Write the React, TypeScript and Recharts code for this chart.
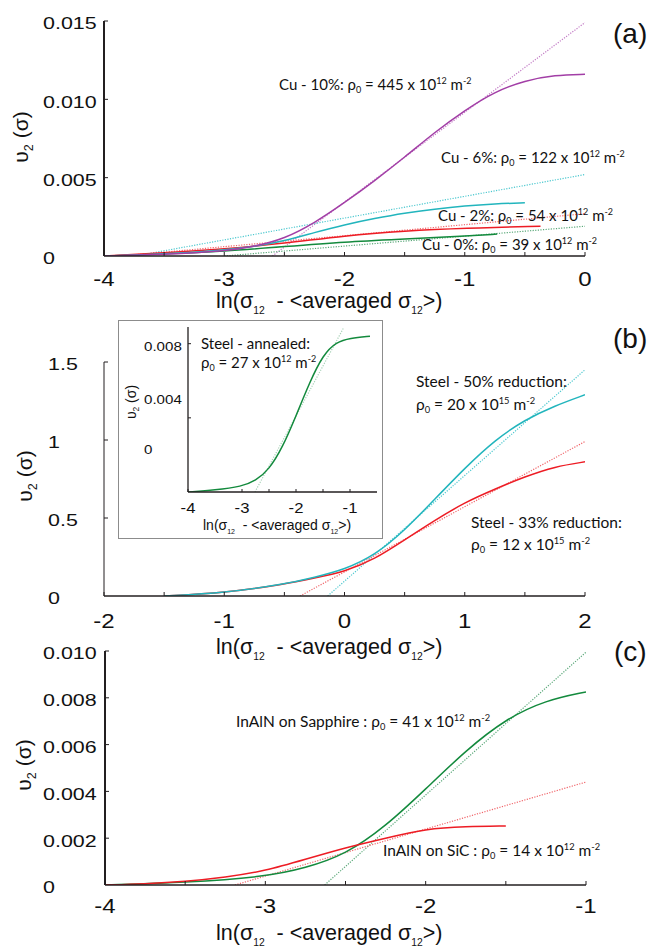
import React from 'react';
import { LineChart, Line, XAxis, YAxis } from 'recharts';

// ---------- Panel (a): Cu ----------
const aXTicks = [-4, -3.5, -3, -2.5, -2, -1.5, -1, -0.5, 0];
const aXLabels = ['-4', '', '-3', '', '-2', '', '-1', '', '0'];
const aYTicks = [0, 0.005, 0.01, 0.015];
const aYLabels = ['0', '0.005', '0.010', '0.015'];

const cu10X = [-4, -3.5, -3, -2.75, -2.5, -2.25, -2, -1.75, -1.5, -1.25, -1, -0.75, -0.5, -0.25, 0];
const cu10Y = [0, 0.0001, 0.0003, 0.0006, 0.0011, 0.0021, 0.0034, 0.0048, 0.0063, 0.0079, 0.0093, 0.0105, 0.0112, 0.01155, 0.0116];
const cu6X = [-4, -3.5, -3, -2.75, -2.5, -2.25, -2, -1.75, -1.5, -1.25, -1, -0.75, -0.5];
const cu6Y = [0, 0.00013, 0.00038, 0.0006, 0.00095, 0.0015, 0.002, 0.0024, 0.00275, 0.003, 0.0032, 0.00333, 0.0034];
const cu2X = [-4, -3.5, -3, -2.5, -2, -1.5, -1, -0.37];
const cu2Y = [0, 0.0002, 0.00045, 0.0008, 0.0013, 0.0016, 0.00178, 0.0019];
const cu0X = [-4, -3.5, -3, -2.5, -2, -1.5, -1, -0.73];
const cu0Y = [0, 0.00013, 0.0003, 0.0006, 0.0009, 0.00108, 0.00127, 0.0014];
const cu10FitX = [-2.6, 0];
const cu10FitY = [0, 0.0149];
const cu6FitX = [-3.74, 0];
const cu6FitY = [0, 0.0052];
const cu2FitX = [-3.85, 0];
const cu2FitY = [0, 0.0027];
const cu0FitX = [-3.0, 0];
const cu0FitY = [0, 0.0019];

// ---------- Panel (b): Steel ----------
const bXTicks = [-2, -1.5, -1, -0.5, 0, 0.5, 1, 1.5, 2];
const bXLabels = ['-2', '', '-1', '', '0', '', '1', '', '2'];
const bYTicks = [0, 0.5, 1, 1.5];
const bYLabels = ['0', '0.5', '1', '1.5'];

const st50X = [-1.5, -1, -0.5, -0.25, 0, 0.25, 0.5, 0.75, 1, 1.25, 1.5, 1.75, 2];
const st50Y = [0, 0.02, 0.075, 0.12, 0.17, 0.26, 0.42, 0.62, 0.82, 1.0, 1.13, 1.22, 1.29];
const st33X = [-1.5, -1, -0.5, -0.25, 0, 0.25, 0.5, 0.75, 1, 1.25, 1.5, 1.75, 2];
const st33Y = [0, 0.02, 0.075, 0.115, 0.156, 0.235, 0.36, 0.485, 0.6, 0.685, 0.765, 0.83, 0.86];
const st50FitX = [-0.14, 2];
const st50FitY = [0, 1.45];
const st33FitX = [-0.37, 2];
const st33FitY = [0, 0.99];

// inset: annealed steel
const iXTicks = [-4, -3, -2.5, -2, -1.5, -1];
const iXLabels = ['-4', '-3', '', '-2', '', '-1'];
const iYTicks = [0, 0.004, 0.008];
const iYLabels = ['0', '0.004', '0.008'];
const annX = [-4, -3.5, -3, -2.75, -2.5, -2.25, -2, -1.75, -1.5, -1.25, -1, -0.63];
const annY = [0, 0.0001, 0.0003, 0.0006, 0.0012, 0.0024, 0.0041, 0.0059, 0.0074, 0.0081, 0.0083, 0.0084];
const annFitX = [-2.76, -1.12];
const annFitY = [0, 0.00885];

// ---------- Panel (c): InAlN ----------
const cXTicks = [-4, -3.5, -3, -2.5, -2, -1.5, -1];
const cXLabels = ['-4', '', '-3', '', '-2', '', '-1'];
const cYTicks = [0, 0.002, 0.004, 0.006, 0.008, 0.01];
const cYLabels = ['0', '0.002', '0.004', '0.006', '0.008', '0.010'];

const sapX = [-4, -3.5, -3, -2.75, -2.5, -2.25, -2, -1.75, -1.5, -1.25, -1];
const sapY = [0, 0.0001, 0.00035, 0.00072, 0.0013, 0.0025, 0.0041, 0.00575, 0.0071, 0.0079, 0.00825];
const sicX = [-4, -3.75, -3.5, -3.25, -3, -2.75, -2.5, -2.25, -2, -1.75, -1.5];
const sicY = [0, 0.00005, 0.00015, 0.00033, 0.0006, 0.0011, 0.0016, 0.002, 0.0024, 0.0025, 0.00252];
const sapFitX = [-2.63, -1];
const sapFitY = [0, 0.00995];
const sicFitX = [-3.19, -1];
const sicFitY = [0, 0.0044];

const zip = (xs: number[], ys: number[]) => xs.map((x, i) => ({ x, y: ys[i] }));

const PURPLE = '#a23ea6';
const PURPLE_D = '#c27ac5';
const CYAN = '#22b5bd';
const CYAN_D = '#4cc8cf';
const RED = '#ed1c24';
const RED_D = '#f0656a';
const GREEN = '#138a3d';
const GREEN_D = '#5aa879';
const AXIS = '#231f20';
const ARIAL = '"Liberation Sans", Arial, sans-serif';
const LATO = 'Lato, "Noto Sans", sans-serif';

type TickOpts = {
  ticks: number[];
  labels: string[];
  labelDx?: number;
  labelDy: number | number[];
  size: number;
  scale: number;
  len?: number;
};

const makeYTick = (o: TickOpts) => (props: any) => {
  const { x, y, payload } = props;
  const i = o.ticks.indexOf(payload.value);
  const lbl = i >= 0 ? o.labels[i] : '';
  const dy = Array.isArray(o.labelDy) ? o.labelDy[i] : o.labelDy;
  const len = o.len ?? 4;
  return (
    <g>
      {payload.value !== 0 && <line x1={x} x2={x + len} y1={y} y2={y} stroke={AXIS} strokeWidth={1} />}
      {lbl ? (
        <text
          transform={`translate(${x - (o.labelDx ?? 0)},${y + dy}) scale(${o.scale},1)`}
          fontFamily={ARIAL}
          fontSize={o.size}
          fill="#111"
          textAnchor="start"
        >
          {lbl}
        </text>
      ) : null}
    </g>
  );
};

const makeXTick = (o: TickOpts) => (props: any) => {
  const { x, y, payload } = props;
  const i = o.ticks.indexOf(payload.value);
  const lbl = i >= 0 ? o.labels[i] : '';
  const dy = Array.isArray(o.labelDy) ? o.labelDy[i] : o.labelDy;
  const len = o.len ?? 4;
  return (
    <g>
      <line x1={x} x2={x} y1={y} y2={y - len} stroke={AXIS} strokeWidth={1} />
      {lbl ? (
        <text
          transform={`translate(${x},${y + dy}) scale(${o.scale},1)`}
          fontFamily={ARIAL}
          fontSize={o.size}
          fill="#111"
          textAnchor="middle"
        >
          {lbl}
        </text>
      ) : null}
    </g>
  );
};

type Seg = [string, 'n' | 'b' | 'p'];

const Rich = ({
  x, y, size, family, segs, rotate = false, anchor = 'start', subScale = 0.6, subShift = 0.22, supShift = 0.38,
}: {
  x: number; y: number; size: number; family: string; segs: Seg[]; rotate?: boolean; anchor?: string;
  subScale?: number; subShift?: number; supShift?: number;
}) => {
  let cur = 0;
  const kids = segs.map(([t, m], i) => {
    const target = m === 'b' ? size * subShift : m === 'p' ? -size * supShift : 0;
    const dy = target - cur;
    cur = target;
    return (
      <tspan key={i} dy={dy} fontSize={m === 'n' ? size : size * subScale}>
        {t}
      </tspan>
    );
  });
  return (
    <text
      x={x}
      y={y}
      fontFamily={family}
      fontSize={size}
      fill="#111"
      textAnchor={anchor as any}
      transform={rotate ? `rotate(-90 ${x} ${y})` : undefined}
      style={{ whiteSpace: 'pre' }}
    >
      {kids}
    </text>
  );
};

const lnSegs: Seg[] = [['ln(σ', 'n'], ['12', 'b'], ['  - <averaged σ', 'n'], ['12', 'b'], ['>)', 'n']];
const upsSegs: Seg[] = [['υ', 'n'], ['2', 'b'], [' (σ)', 'n']];
const rho = (pre: string, val: string, exp: string): Seg[] => [
  [pre + 'ρ', 'n'], ['0', 'b'], [' = ' + val + ' x 10', 'n'], [exp, 'p'], [' m', 'n'], ['-2', 'p'],
];

const aNotes: { x: number; y: number; segs: Seg[] }[] = [
  { x: 279, y: 90, segs: rho('Cu - 10%: ', '445', '12') },
  { x: 441, y: 163, segs: rho('Cu - 6%: ', '122', '12') },
  { x: 438, y: 221, segs: rho('Cu - 2%: ', '54', '12') },
  { x: 422, y: 250, segs: rho('Cu - 0%: ', '39', '12') },
];
const bNotes: { x: number; y: number; segs: Seg[] }[] = [
  { x: 416, y: 387, segs: [['Steel - 50% reduction:', 'n']] },
  { x: 416, y: 410, segs: rho('', '20', '15') },
  { x: 471, y: 528, segs: [['Steel - 33% reduction:', 'n']] },
  { x: 471, y: 550, segs: rho('', '12', '15') },
];
const insetNotes: { x: number; y: number; segs: Seg[] }[] = [
  { x: 201, y: 349, segs: [['Steel - annealed:', 'n']] },
  { x: 201, y: 368, segs: rho('', '27', '12') },
];
const cNotes: { x: number; y: number; segs: Seg[] }[] = [
  { x: 236, y: 727, segs: rho('InAlN on Sapphire : ', '41', '12') },
  { x: 383, y: 856, segs: rho('InAlN on SiC : ', '14', '12') },
];

const solid = (data: any[], color: string, key: string) => (
  <Line key={key} data={data} dataKey="y" type="basis" stroke={color} strokeWidth={1.5} dot={false} activeDot={false} isAnimationActive={false} />
);
const dotted = (data: any[], color: string, key: string) => (
  <Line key={key} data={data} dataKey="y" type="linear" stroke={color} strokeWidth={1.2} strokeDasharray="1.2 1.4" dot={false} activeDot={false} isAnimationActive={false} />
);

export default function App() {
  return (
    <div style={{ position: 'absolute', left: 0, top: 0, width: 649, height: 947, background: '#fff', overflow: 'hidden' }}>
      {/* Panel (a) */}
      <div style={{ position: 'absolute', left: 0, top: 0 }}>
        <LineChart width={649} height={300} margin={{ top: 21, right: 64, bottom: 0, left: 0 }}>
          <XAxis
            type="number" dataKey="x" domain={[-4, 0]} ticks={aXTicks} interval={0} height={44}
            axisLine={{ stroke: AXIS, strokeWidth: 1.6 }} tickLine={false} tickSize={0} tickMargin={0}
            tick={makeXTick({ ticks: aXTicks, labels: aXLabels, labelDy: 30, size: 20, scale: 1.2 })}
            allowDataOverflow
          />
          <YAxis
            type="number" domain={[0, 0.015]} ticks={aYTicks} interval={0} width={104}
            axisLine={{ stroke: AXIS, strokeWidth: 2 }} tickLine={false} tickSize={0} tickMargin={0}
            tick={makeYTick({ ticks: aYTicks, labels: aYLabels, labelDx: 61, labelDy: 8.3, size: 16.5, scale: 1.3 })}
            allowDataOverflow
          />
          {dotted(zip(cu10FitX, cu10FitY), PURPLE_D, 'f10')}
          {dotted(zip(cu6FitX, cu6FitY), CYAN_D, 'f6')}
          {dotted(zip(cu2FitX, cu2FitY), RED_D, 'f2')}
          {dotted(zip(cu0FitX, cu0FitY), GREEN_D, 'f0')}
          {solid(zip(cu0X, cu0Y), GREEN, 's0')}
          {solid(zip(cu2X, cu2Y), RED, 's2')}
          {solid(zip(cu6X, cu6Y), CYAN, 's6')}
          {solid(zip(cu10X, cu10Y), PURPLE, 's10')}
        </LineChart>
      </div>

      {/* Panel (b) */}
      <div style={{ position: 'absolute', left: 0, top: 300 }}>
        <LineChart width={649} height={340} margin={{ top: 62, right: 64, bottom: 0, left: 0 }}>
          <XAxis
            type="number" dataKey="x" domain={[-2, 2]} ticks={bXTicks} interval={0} height={44}
            axisLine={{ stroke: AXIS, strokeWidth: 1.6 }} tickLine={false} tickSize={0} tickMargin={0}
            tick={makeXTick({ ticks: bXTicks, labels: bXLabels, labelDy: 32, size: 20, scale: 1.2 })}
            allowDataOverflow
          />
          <YAxis
            type="number" domain={[0, 1.5]} ticks={bYTicks} interval={0} width={104}
            axisLine={{ stroke: AXIS, strokeWidth: 1 }} tickLine={false} tickSize={0} tickMargin={0}
            tick={makeYTick({ ticks: bYTicks, labels: bYLabels, labelDx: 56, labelDy: 8.3, size: 16.5, scale: 1.3 })}
            allowDataOverflow
          />
          {dotted(zip(st50FitX, st50FitY), CYAN_D, 'f50')}
          {dotted(zip(st33FitX, st33FitY), RED_D, 'f33')}
          {solid(zip(st33X, st33Y), RED, 's33')}
          {solid(zip(st50X, st50Y), CYAN, 's50')}
        </LineChart>
      </div>

      {/* Inset */}
      <div style={{ position: 'absolute', left: 118, top: 320, width: 265, height: 219, border: '1px solid #8c8c8c', boxSizing: 'border-box', background: '#fff' }}>
        <LineChart width={263} height={217} margin={{ top: 6, right: 5, bottom: 0, left: 0 }}>
          <XAxis
            type="number" dataKey="x" domain={[-4, -0.5]} ticks={iXTicks} interval={0} height={46}
            axisLine={{ stroke: AXIS, strokeWidth: 1.3 }} tickLine={false} tickSize={0} tickMargin={0}
            tick={makeXTick({ ticks: iXTicks, labels: iXLabels, labelDy: 21, size: 14.5, scale: 1.15, len: 3 })}
            allowDataOverflow
          />
          <YAxis
            type="number" domain={[0, 0.0089]} ticks={iYTicks} interval={0} width={69}
            axisLine={{ stroke: AXIS, strokeWidth: 1.3 }} tickLine={false} tickSize={0} tickMargin={0}
            tick={makeYTick({ ticks: iYTicks, labels: iYLabels, labelDx: 44, labelDy: [-38, -14, 7], size: 13.5, scale: 1.12, len: 3 })}
            allowDataOverflow
          />
          {dotted(zip(annFitX, annFitY), '#a9d2b8', 'fann')}
          {solid(zip(annX, annY), GREEN, 'sann')}
        </LineChart>
      </div>

      {/* Panel (c) */}
      <div style={{ position: 'absolute', left: 0, top: 640 }}>
        <LineChart width={649} height={307} margin={{ top: 11, right: 63, bottom: 0, left: 0 }}>
          <XAxis
            type="number" dataKey="x" domain={[-4, -1]} ticks={cXTicks} interval={0} height={62}
            axisLine={{ stroke: AXIS, strokeWidth: 1.6 }} tickLine={false} tickSize={0} tickMargin={0}
            tick={makeXTick({ ticks: cXTicks, labels: cXLabels, labelDy: 28, size: 20, scale: 1.2 })}
            allowDataOverflow
          />
          <YAxis
            type="number" domain={[0, 0.01]} ticks={cYTicks} interval={0} width={105}
            axisLine={{ stroke: AXIS, strokeWidth: 2 }} tickLine={false} tickSize={0} tickMargin={0}
            tick={makeYTick({ ticks: cYTicks, labels: cYLabels, labelDx: 62, labelDy: 8.3, size: 16.5, scale: 1.3 })}
            allowDataOverflow
          />
          {dotted(zip(sapFitX, sapFitY), GREEN_D, 'fsap')}
          {dotted(zip(sicFitX, sicFitY), RED_D, 'fsic')}
          {solid(zip(sapX, sapY), GREEN, 'ssap')}
          {solid(zip(sicX, sicY), RED, 'ssic')}
        </LineChart>
      </div>

      {/* Text overlay */}
      <svg width={649} height={947} style={{ position: 'absolute', left: 0, top: 0, pointerEvents: 'none' }}>
        <text x={613} y={43} fontFamily={ARIAL} fontSize={28} fill="#111">(a)</text>
        <text x={613} y={348} fontFamily={ARIAL} fontSize={28} fill="#111">(b)</text>
        <text x={614} y={661} fontFamily={ARIAL} fontSize={28} fill="#111">(c)</text>

        <Rich x={28} y={137} size={21} family={ARIAL} segs={upsSegs} rotate anchor="middle" />
        <Rich x={32} y={476} size={21} family={ARIAL} segs={upsSegs} rotate anchor="middle" />
        <Rich x={31} y={765} size={21} family={ARIAL} segs={upsSegs} rotate anchor="middle" />
        <Rich x={136} y={402} size={14} family={ARIAL} segs={upsSegs} rotate anchor="middle" />

        <Rich x={216} y={308} size={21.5} family={ARIAL} segs={lnSegs} subScale={0.48} subShift={0.27} />
        <Rich x={216} y={654} size={21.5} family={ARIAL} segs={lnSegs} subScale={0.48} subShift={0.27} />
        <Rich x={216} y={940} size={21.5} family={ARIAL} segs={lnSegs} subScale={0.48} subShift={0.27} />
        <Rich x={203} y={530} size={14} family={ARIAL} segs={lnSegs} subScale={0.5} subShift={0.27} />

        {aNotes.map((n, i) => (
          <Rich key={'a' + i} x={n.x} y={n.y} size={15} family={LATO} segs={n.segs} />
        ))}
        {[...bNotes, ...cNotes].map((n, i) => (
          <Rich key={'bc' + i} x={n.x} y={n.y} size={15.5} family={LATO} segs={n.segs} />
        ))}
        {insetNotes.map((n, i) => (
          <Rich key={'in' + i} x={n.x} y={n.y} size={15} family={LATO} segs={n.segs} />
        ))}
      </svg>
    </div>
  );
}
